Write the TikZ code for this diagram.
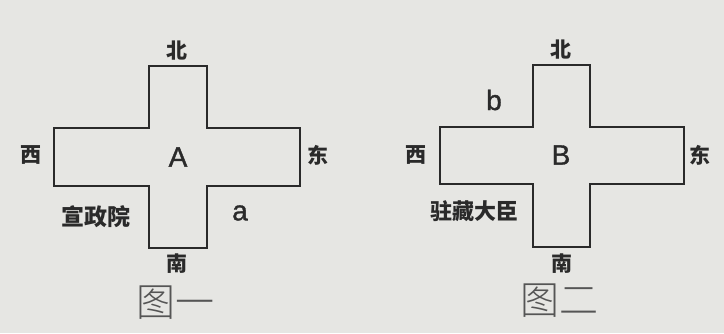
\documentclass[tikz,border=0pt]{standalone}
\usepackage{fontspec}
\setmainfont{Liberation Sans}
\newfontfamily\tagfont{Liberation Sans}[FakeBold=1.2]
\newfontfamily\cjk{Noto Sans CJK SC}
\newfontfamily\cjklight{Noto Sans CJK SC}[UprightFont=* Light]
\definecolor{Paper}{HTML}{E6E6E3}
\definecolor{Ink}{HTML}{2A2A2A}
\definecolor{Muted}{HTML}{555555}

\begin{document}
\begin{tikzpicture}[x=1pt,y=-1pt,
  wall/.style={draw=Ink,line width=1.7pt,line join=miter},
  dirlabel/.style={text=Ink,inner sep=0pt,font=\cjk\bfseries\fontsize{21}{21}\selectfont},
  tag/.style={text=Ink,inner sep=0pt,font=\tagfont\fontsize{28}{28}\selectfont},
  caption/.style={text=Muted,inner sep=0pt,font=\cjklight\fontsize{39}{39}\selectfont}]
  \fill[Paper] (0,0) rectangle (724,333);
  \useasboundingbox (0,0) rectangle (724,333);
  % 图一
  \draw[wall] (149,66) -- (207,66) -- (207,128) -- (300,128) -- (300,186) -- (207,186)
    -- (207,248) -- (149,248) -- (149,186) -- (54,186) -- (54,128) -- (149,128) -- cycle;
  \node[dirlabel] (n1) at (177,51) {北};
  \node[dirlabel] (w1) at (31,155) {西};
  \node[dirlabel] (e1) at (318,155) {东};
  \node[dirlabel] (s1) at (177,264) {南};
  \node[tag] (A) at (178,157) {A};
  \node[tag] (a) at (240,213) {a};
  \node[dirlabel,font=\cjk\bfseries\fontsize{23}{23}\selectfont] (office) at (96,217) {宣政院};
  \node[caption] (fig1) at (175,303) {图一};
  % 图二
  \draw[wall] (533,65) -- (590,65) -- (590,127) -- (684,127) -- (684,184) -- (590,184)
    -- (590,247) -- (533,247) -- (533,184) -- (440,184) -- (440,127) -- (533,127) -- cycle;
  \node[dirlabel] (n2) at (561,50) {北};
  \node[dirlabel] (w2) at (416,155) {西};
  \node[dirlabel] (e2) at (700,155) {东};
  \node[dirlabel] (s2) at (562,264) {南};
  \node[tag] (B) at (561,155) {B};
  \node[tag] (b) at (494,100) {b};
  \node[dirlabel,font=\cjk\bfseries\fontsize{22}{22}\selectfont] (amban) at (474,211) {驻藏大臣};
  \node[caption] (fig2) at (559,301) {图二};
\end{tikzpicture}
\end{document}
